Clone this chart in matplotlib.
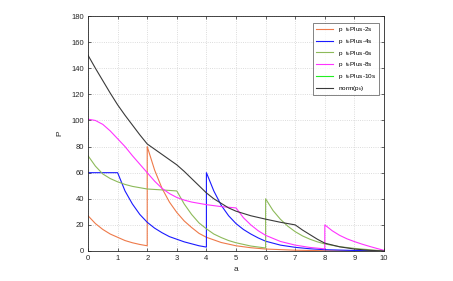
import matplotlib
matplotlib.use('Agg')
import matplotlib.pyplot as plt

plt.rcParams['font.family'] = ['Liberation Sans', 'DejaVu Sans']

# p t_kPlus-2s
x_2s = [0, 0.25, 0.5, 0.75, 1, 1.25, 1.5, 1.75, 2, 2, 2.25, 2.5, 2.75, 3, 3.25, 3.5, 3.75, 4,
        4.5, 5, 5.5, 6, 7, 8, 9, 10]
p_2s = [27, 21, 16.5, 13, 10.5, 8, 6.3, 5, 4, 80, 62, 48, 37.5, 29.5, 23, 18, 13.5, 10.5,
        6.5, 4, 2.5, 1.5, 0.6, 0.2, 0.1, 0]

# p t_kPlus-4s
x_4s = [0, 1, 1.25, 1.5, 1.75, 2, 2.25, 2.5, 2.75, 3, 3.25, 3.5, 3.75, 4, 4, 4.25, 4.5, 4.75,
        5, 5.25, 5.5, 5.75, 6, 6.5, 7, 7.5, 8, 9, 10]
p_4s = [60, 60, 46, 36, 28, 22, 17.5, 14, 11, 9, 7, 5.5, 4, 3, 60, 46, 35, 27,
        21, 16.5, 13, 10, 7.5, 4.5, 2.8, 1.7, 1, 0.4, 0]

# p t_kPlus-6s
x_6s = [0, 0.25, 0.5, 0.75, 1, 1.25, 1.5, 1.75, 2, 2.5, 3, 3.25, 3.5, 3.75, 4, 4.25, 4.5, 4.75,
        5, 5.5, 6, 6, 6.25, 6.5, 6.75, 7, 7.25, 7.5, 7.75, 8, 8.5, 9, 9.5, 10]
p_6s = [73, 65, 59, 55.5, 53, 51, 49.5, 48.5, 47.5, 46.8, 46, 36, 28, 21.5, 17, 13, 10.3, 8,
        6.3, 3.8, 2.3, 40, 31, 24.3, 19, 14.8, 11.5, 9, 7, 5.4, 3.3, 2, 1, 0]

# p t_kPlus-8s
x_8s = [0, 0.25, 0.5, 0.75, 1, 1.25, 1.5, 1.75, 2, 2.25, 2.5, 2.75, 3, 3.25, 3.5, 4, 4.5, 5,
        5.25, 5.5, 5.75, 6, 6.5, 7, 7.5, 8, 8, 8.25, 8.5, 8.75, 9, 9.25, 9.5, 9.75, 10]
p_8s = [101, 100, 97, 92, 86, 80, 73, 66.5, 60, 53.5, 48, 44, 41, 39, 37.5, 35.5, 34, 33,
        25.5, 20, 15.5, 12, 7.3, 4.5, 2.7, 1.6, 20, 15.5, 12, 9.3, 7.2, 5.3, 3.6, 2, 0.5]

# p t_kPlus-10s (not visible in the chart)
x_10s = []
p_10s = []

# norm(p_k)
x_norm = [0, 0.25, 0.5, 0.75, 1, 1.25, 1.5, 1.75, 2, 2.25, 2.5, 2.75, 3, 3.25, 3.5, 3.75, 4,
          4.25, 4.5, 4.75, 5, 5.5, 6, 6.5, 7, 7.25, 7.5, 7.75, 8, 8.5, 9, 9.5, 10]
p_norm = [150, 140, 130.5, 121, 112, 104, 96.5, 89, 82, 78, 74, 70, 66, 61, 55.5, 50, 44.5,
          40, 36.5, 33, 30.5, 27, 24.4, 22, 20, 16, 12.5, 9, 6, 3.2, 1.5, 0.5, 0]

fig = plt.figure(figsize=(4.53, 2.81), dpi=100)
ax = fig.add_axes([0.1943, 0.1068, 0.6534, 0.836])

lw = 0.8
ax.plot(x_2s, p_2s, color='#EE7A4A', lw=lw, label=r'p  t$_k$Plus-2s')
ax.plot(x_4s, p_4s, color='#1A1AFF', lw=lw, label=r'p  t$_k$Plus-4s')
ax.plot(x_6s, p_6s, color='#8DBA5A', lw=lw, label=r'p  t$_k$Plus-6s')
ax.plot(x_8s, p_8s, color='#FF33FF', lw=lw, label=r'p  t$_k$Plus-8s')
ax.plot(x_10s, p_10s, color='#22EE22', lw=lw, label=r'p  t$_k$Plus-10s')
ax.plot(x_norm, p_norm, color='#3A3A3A', lw=lw, label=r'norm(p$_k$)')

ax.set_xlim(0, 10)
ax.set_ylim(0, 180)
ax.set_xticks(range(0, 11))
ax.set_yticks(range(0, 181, 20))
ax.grid(True, linestyle=':', color='#D0D0D0', lw=0.6)
ax.tick_params(direction='in', top=True, right=True, labelsize=5.5, length=2.5,
               width=0.5, colors='#262626', pad=3)
for s in ax.spines.values():
    s.set_linewidth(0.6)
    s.set_color('#262626')

ax.set_xlabel('a', fontsize=6, color='#262626', labelpad=3)
ax.set_ylabel('P', fontsize=6, color='#262626', labelpad=6)

leg = ax.legend(loc='upper right', fontsize=4.6, frameon=True, fancybox=False,
                edgecolor='#262626', handlelength=2.8, borderpad=0.4,
                labelspacing=0.42, handletextpad=0.7, borderaxespad=0.5,
                bbox_to_anchor=(0.993, 0.985))
leg.get_frame().set_linewidth(0.5)

fig.savefig('out.png', dpi=100)
